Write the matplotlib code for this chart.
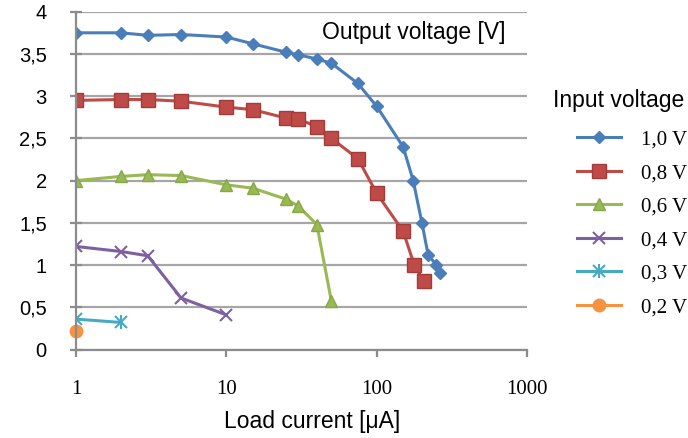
import matplotlib.pyplot as plt
from matplotlib.ticker import FixedLocator, FuncFormatter, NullLocator
from matplotlib.legend_handler import HandlerTuple

# load current [uA] and output voltage [V] per input voltage
x_10 = [1, 2, 3, 5, 10, 15, 25, 30, 40, 50, 75, 100, 150, 175, 200, 220, 250, 265]
y_10 = [3.75, 3.75, 3.72, 3.73, 3.70, 3.62, 3.52, 3.49, 3.44, 3.39, 3.15, 2.88, 2.40, 2.00, 1.50, 1.12, 1.00, 0.90]
x_08 = [1, 2, 3, 5, 10, 15, 25, 30, 40, 50, 75, 100, 150, 178, 205]
y_08 = [2.95, 2.96, 2.96, 2.94, 2.87, 2.84, 2.74, 2.73, 2.64, 2.50, 2.26, 1.85, 1.40, 1.00, 0.81]
x_06 = [1, 2, 3, 5, 10, 15, 25, 30, 40, 50]
y_06 = [2.00, 2.05, 2.07, 2.06, 1.95, 1.91, 1.78, 1.70, 1.48, 0.57]
x_04 = [1, 2, 3, 5, 10]
y_04 = [1.22, 1.16, 1.11, 0.61, 0.41]
x_03 = [1, 2]
y_03 = [0.36, 0.32]
x_02 = [1]
y_02 = [0.22]

labels = ["1,0 V", "0,8 V", "0,6 V", "0,4 V", "0,3 V", "0,2 V"]
x_ticks = [1, 10, 100, 1000]
y_ticks = [0, 0.5, 1, 1.5, 2, 2.5, 3, 3.5, 4]

sans = "Liberation Sans"
serif = "Liberation Serif"

fig = plt.figure(figsize=(6.88, 4.38), dpi=100)
ax = fig.add_axes([76 / 688, 1 - 349.5 / 438, (527 - 76) / 688, (349.5 - 11.7) / 438])

lw = 2.2
h1, = ax.plot(x_10, y_10, color="#4A7EBB", lw=lw, marker="D", ms=6, mec="#4A7EBB")
h2, = ax.plot(x_08, y_08, color="#BE4B48", lw=lw, marker="s", ms=10, mec="#A33C39")
h3, = ax.plot(x_06, y_06, color="#98B954", lw=lw, marker="^", ms=9, mec="#86A845")
h4, = ax.plot(x_04, y_04, color="#7D60A0", lw=lw, marker="x", ms=9, mew=1.5)
h5, = ax.plot(x_03, y_03, color="#46AAC5", lw=lw, marker="x", ms=9, mew=1.5)
h5b, = ax.plot(x_03, y_03, color="#46AAC5", lw=0, marker="|", ms=10, mew=1.5)
h6, = ax.plot(x_02, y_02, color="#F69240", lw=lw, marker="o", ms=9, clip_on=False)

ax.set_xscale("log")
ax.set_xlim(1, 1000)
ax.set_ylim(0, 4)
ax.xaxis.set_major_locator(FixedLocator(x_ticks))
ax.xaxis.set_minor_locator(NullLocator())
ax.xaxis.set_major_formatter(FuncFormatter(lambda v, p: "%g" % v))
ax.yaxis.set_major_locator(FixedLocator(y_ticks))
ax.yaxis.set_major_formatter(FuncFormatter(lambda v, p: ("%g" % v).replace(".", ",")))

ax.grid(axis="y", color="#A6A6A6", lw=1.6)
ax.set_axisbelow(True)
for s in ["top", "right"]:
    ax.spines[s].set_visible(False)
for s in ["left", "bottom"]:
    ax.spines[s].set_color("#8C8C8C")
    ax.spines[s].set_linewidth(1.6)

ax.tick_params(axis="y", direction="inout", length=8, width=1.6, color="#8C8C8C", pad=17)
ax.tick_params(axis="x", direction="out", length=5, width=1.6, color="#8C8C8C", pad=17)
for t in ax.get_yticklabels():
    t.set_fontfamily(sans)
    t.set_fontsize(14.5)
for t in ax.get_xticklabels():
    t.set_fontfamily(serif)
    t.set_fontsize(15)

fig.text(312 / 688, 1 - 421.7 / 438, "Load current [μA]", family=sans, fontsize=16.5,
         ha="center", va="center")
fig.text(322 / 688, 1 - 33 / 438, "Output voltage [V]", family=sans, fontsize=16.5,
         ha="left", va="center")
fig.text(553 / 688, 1 - 101 / 438, "Input voltage", family=sans, fontsize=16.5,
         ha="left", va="center")

leg = fig.legend([h1, h2, h3, h4, (h5, h5b), h6], labels,
                 handler_map={tuple: HandlerTuple(ndivide=1)},
                 loc="upper left", bbox_to_anchor=(577 / 688, 1 - 130 / 438),
                 frameon=False, borderpad=0, borderaxespad=0,
                 handlelength=2.1, handletextpad=0.95, labelspacing=0.67,
                 prop={"family": serif, "size": 15})

fig.savefig("out.png", dpi=100)
